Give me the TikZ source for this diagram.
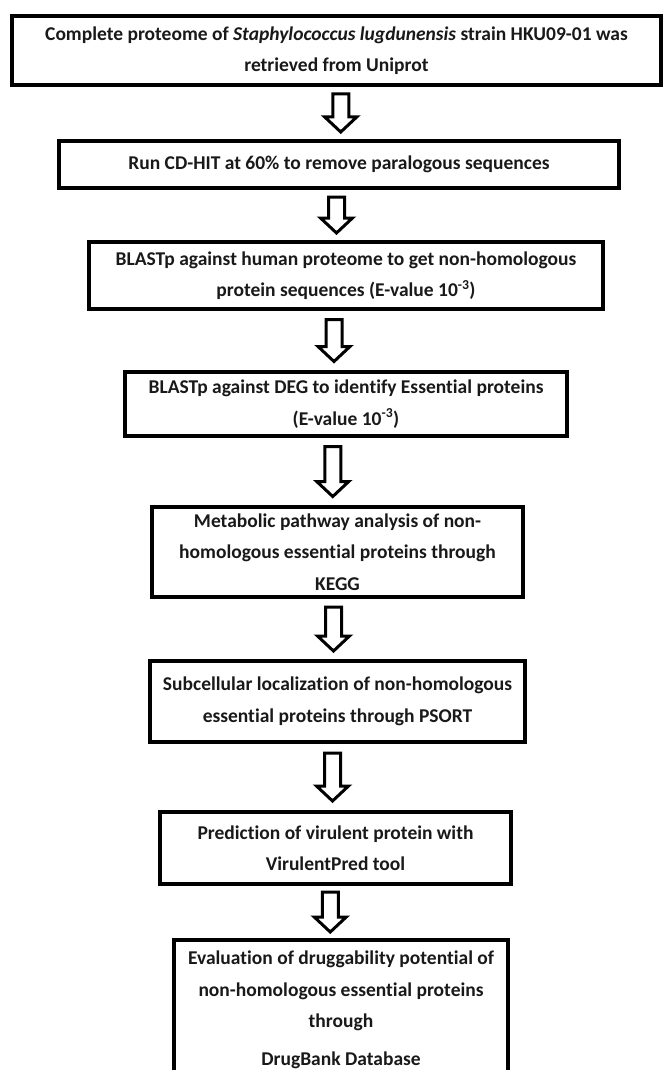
\documentclass[tikz,border=0pt]{standalone}
\usepackage{fontspec}
\setmainfont{Carlito}[Ligatures=NoCommon]
\usetikzlibrary{calc}
\tikzset{
  stepbox/.style={draw=black, line width=4pt, fill=white, align=center, inner sep=0pt,
    font=\fontsize{19.5}{31.5}\selectfont\bfseries, text=black!90},
  pics/blockarr/.style={code={
    \draw[line width=3pt, line join=miter, fill=white]
      (-8,-#1) -- (8,-#1) -- (8,#1-15) -- (16,#1-15) -- (0,#1) -- (-16,#1-15) -- (-8,#1-15) -- cycle;
  }}
}
\begin{document}
\begin{tikzpicture}[x=1pt,y=-1pt]
\useasboundingbox (0,0) rectangle (663,1070);
\clip (0,0) rectangle (663,1070);

\node[stepbox, minimum width=649pt, minimum height=69pt] (b1) at (336.5,50.5)
  {\rule{0pt}{8pt}Complete proteome of \textit{Staphylococcus lugdunensis} strain HKU09-01 was\\retrieved from Uniprot};
\node[stepbox, minimum width=560pt, minimum height=47pt] (b2) at (339,164.5)
  {Run CD-HIT at 60\% to remove paralogous sequences};
\node[stepbox, minimum width=514pt, minimum height=67pt] (b3) at (346,275.5)
  {\rule{0pt}{8pt}BLASTp against human proteome to get non-homologous\\protein sequences (E-value 10\textsuperscript{-3})};
\node[stepbox, minimum width=442pt, minimum height=64pt] (b4) at (346,404)
  {BLASTp against DEG to identify Essential proteins\\(E-value 10\textsuperscript{-3})};
\node[stepbox, minimum width=371pt, minimum height=90pt] (b5) at (337.5,552)
  {Metabolic pathway analysis of non-\\homologous essential proteins through\\KEGG};
\node[stepbox, minimum width=375pt, minimum height=81pt] (b6) at (337.5,701.5)
  {Subcellular localization of non-homologous\\essential proteins through PSORT};
\node[stepbox, minimum width=351pt, minimum height=72pt] (b7) at (335.5,848)
  {Prediction of virulent protein with\\VirulentPred tool};
\node[stepbox, minimum width=334pt, minimum height=140pt] (b8) at (341,1010)
  {Evaluation of druggability potential of\\non-homologous essential proteins\\through\\[6pt]DrugBank Database};

\pic at ($(b1.south)!0.5!(b2.north)+(3,0)$) {blockarr=19};
\pic at ($(b2.south)!0.5!(b3.north)+(-6,0)$) {blockarr=18};
\pic at ($(b3.south)!0.5!(b4.north)+(-12,0)$) {blockarr=21};
\pic at ($(b4.south)!0.5!(b5.north)+(-9,0)$) {blockarr=25};
\pic at ($(b5.south)!0.5!(b6.north)+(-4,0)$) {blockarr=22};
\pic at ($(b6.south)!0.5!(b7.north)+(-4,0)$) {blockarr=24};
\pic at ($(b7.south)!0.5!(b8.north)+(-8,0)$) {blockarr=20};
\end{tikzpicture}
\end{document}
